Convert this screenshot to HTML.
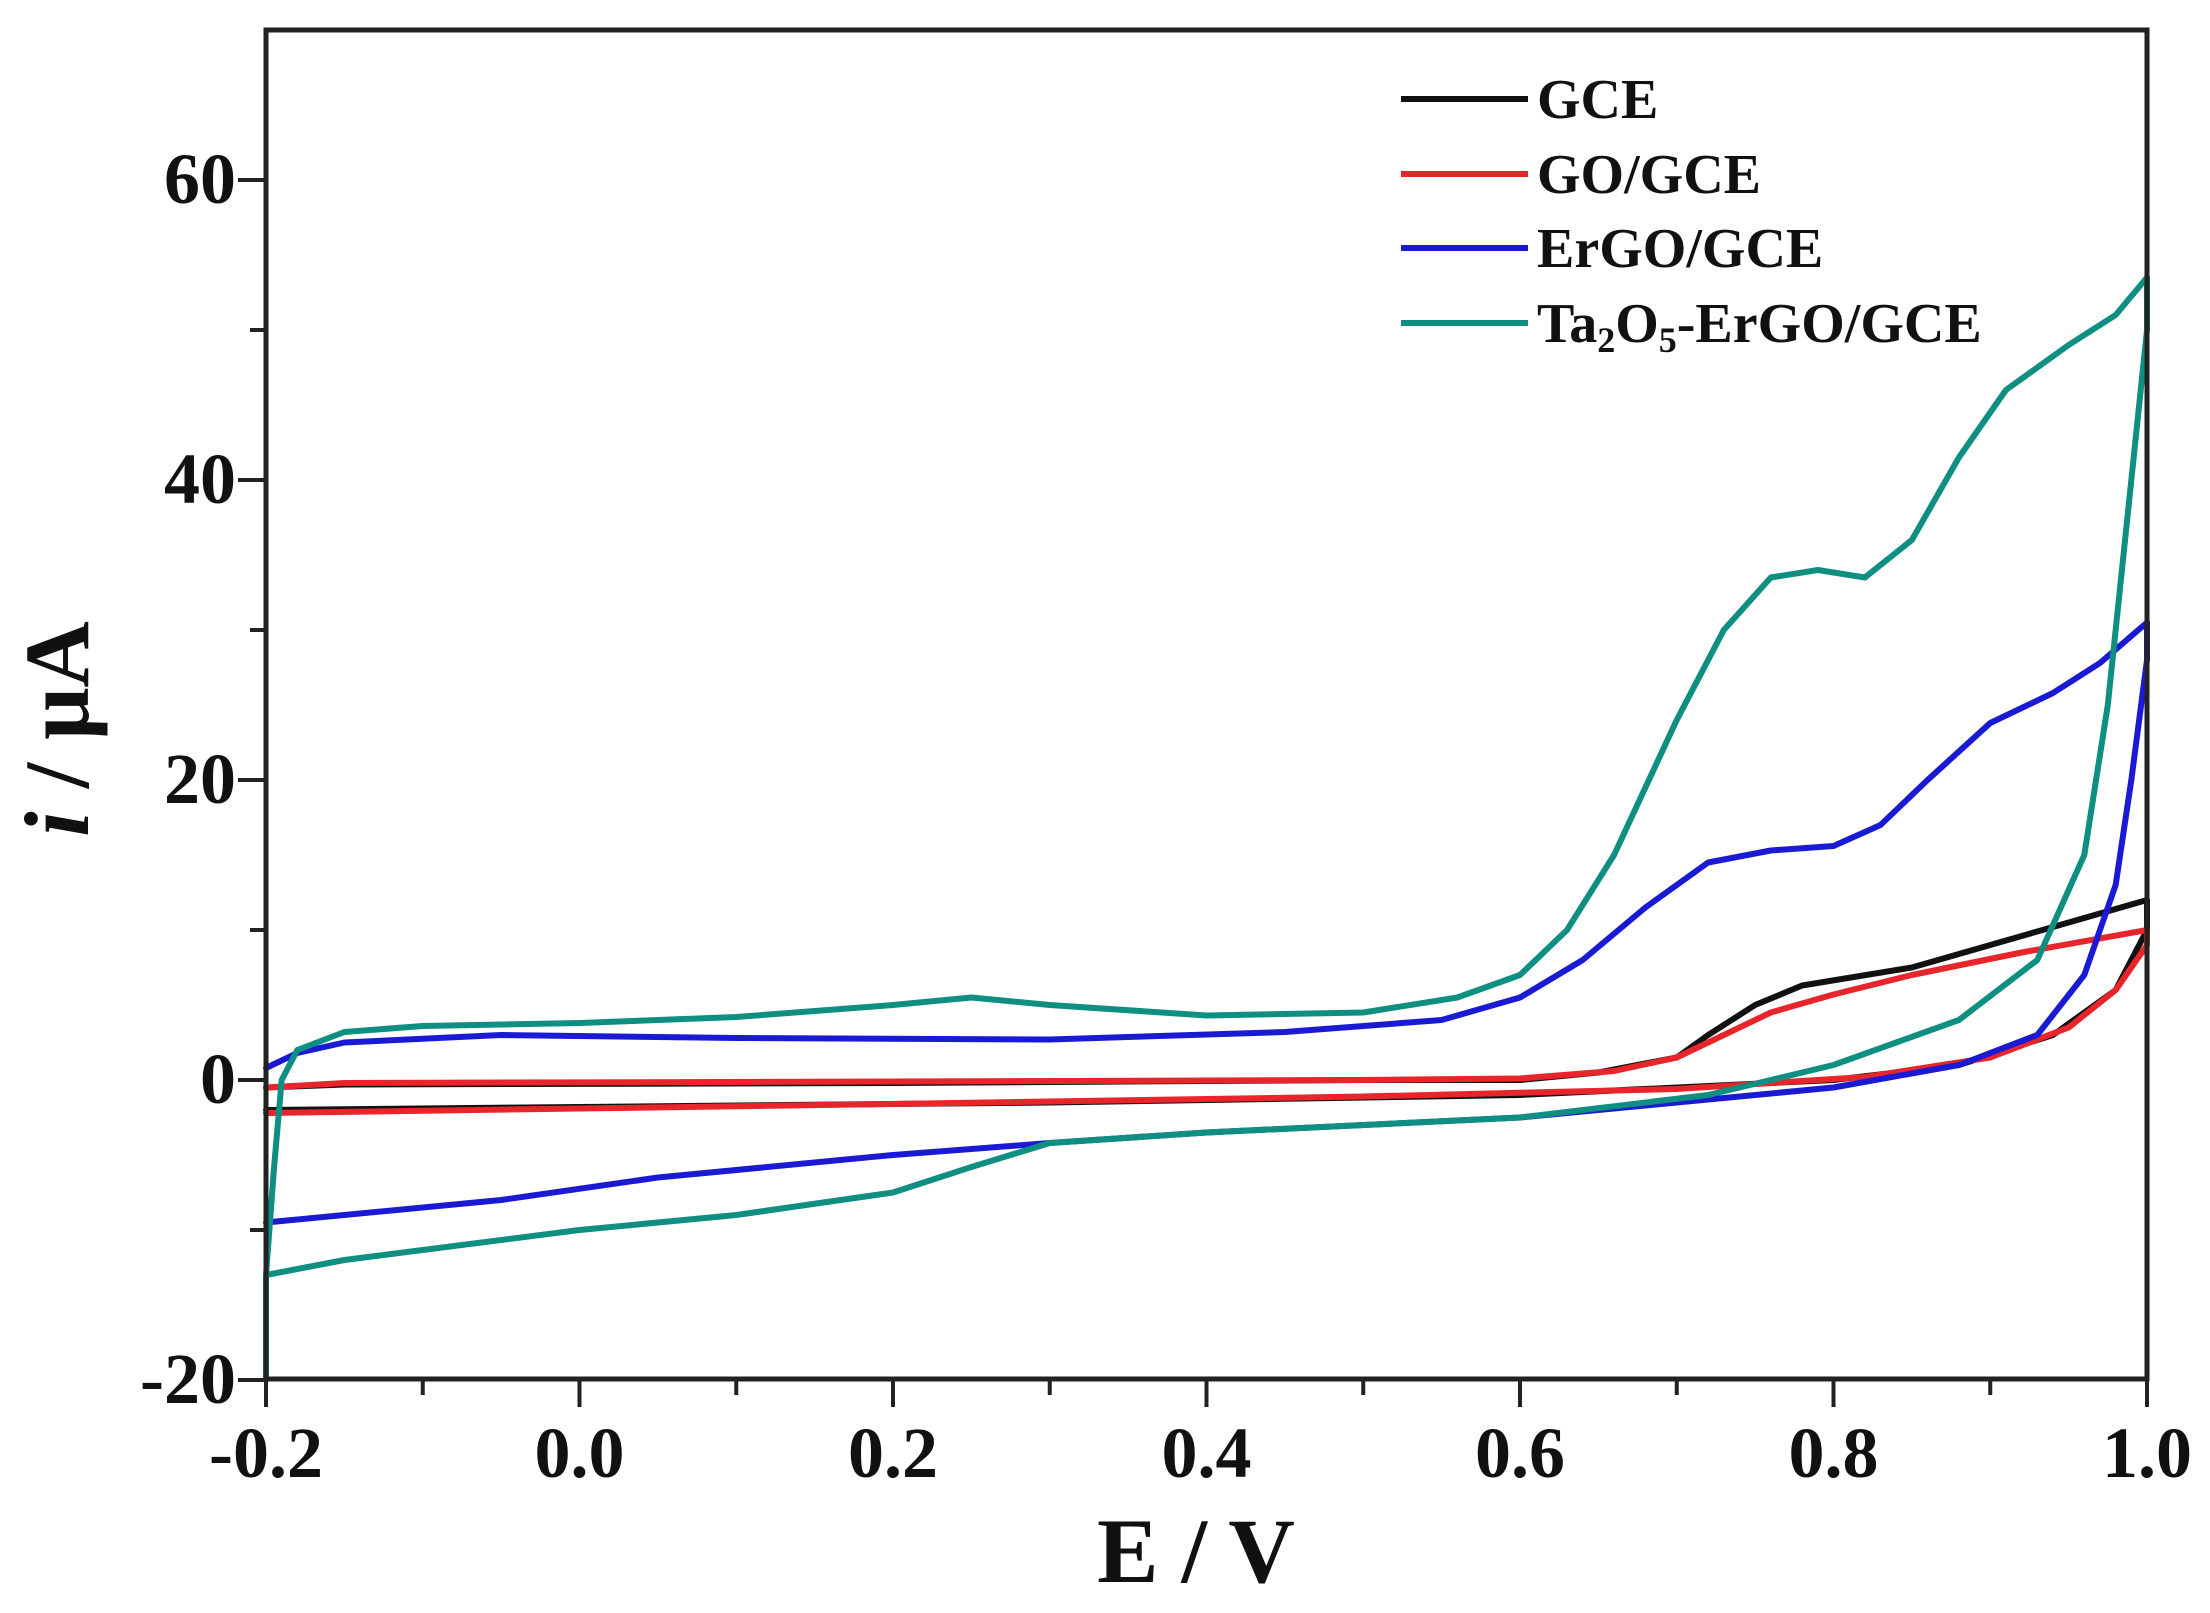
<!DOCTYPE html>
<html><head><meta charset="utf-8"><style>
html,body{margin:0;padding:0;background:#fff;}
svg{display:block;}
text{font-family:"Liberation Serif",serif;font-weight:bold;fill:#111;}
</style></head><body>
<svg width="2210" height="1613" viewBox="0 0 2210 1613" xmlns="http://www.w3.org/2000/svg">
<g transform="translate(579.5,1080) scale(1567.5,-15)" fill="none" stroke-linejoin="round" stroke-linecap="round">
<path vector-effect="non-scaling-stroke" stroke="#111" stroke-width="6" d="M-0.2,-0.5 L-0.15,-0.3 L0.2,-0.2 L0.5,0 L0.6,0 L0.65,0.5 L0.7,1.5 L0.72,3 L0.75,5 L0.78,6.3 L0.85,7.5 L0.95,10.5 L1.0,12 L1.0,10 L0.98,6 L0.94,3 L0.88,1 L0.8,0 L0.6,-1 L0.3,-1.5 L0,-1.8 L-0.2,-2"/>
<path vector-effect="non-scaling-stroke" stroke="#e8252a" stroke-width="6" d="M-0.2,-0.5 L-0.15,-0.2 L0.2,-0.1 L0.5,0 L0.6,0.1 L0.66,0.6 L0.7,1.5 L0.73,3 L0.76,4.5 L0.8,5.7 L0.85,7 L0.92,8.5 L1.0,10 L1.0,9 L0.98,6 L0.95,3.5 L0.9,1.5 L0.82,0.2 L0.7,-0.6 L0.5,-1.1 L0.2,-1.6 L0,-1.9 L-0.2,-2.2"/>
<path vector-effect="non-scaling-stroke" stroke="#1a1ad4" stroke-width="6" d="M-0.2,0.8 L-0.18,1.8 L-0.15,2.5 L-0.05,3 L0.1,2.8 L0.3,2.7 L0.45,3.2 L0.55,4 L0.6,5.5 L0.64,8 L0.68,11.5 L0.72,14.5 L0.76,15.3 L0.8,15.6 L0.83,17 L0.86,20 L0.9,23.8 L0.94,25.8 L0.97,27.8 L1.0,30.5 L1.0,28 L0.99,20 L0.98,13 L0.96,7 L0.93,3 L0.88,1 L0.8,-0.5 L0.7,-1.5 L0.6,-2.5 L0.4,-3.5 L0.3,-4.2 L0.2,-5 L0.05,-6.5 L-0.05,-8 L-0.2,-9.5"/>
<path vector-effect="non-scaling-stroke" stroke="#0e8f82" stroke-width="6" d="M-0.2,-20 L-0.2,-13 L-0.195,-6 L-0.19,0 L-0.18,2 L-0.15,3.2 L-0.1,3.6 L0,3.8 L0.1,4.2 L0.2,5 L0.25,5.5 L0.3,5 L0.4,4.3 L0.5,4.5 L0.56,5.5 L0.6,7 L0.63,10 L0.66,15 L0.7,24 L0.73,30 L0.76,33.5 L0.79,34 L0.82,33.5 L0.85,36 L0.88,41.5 L0.91,46 L0.95,49 L0.98,51 L1.0,53.5 L1.0,50 L0.99,40 L0.975,25 L0.96,15 L0.93,8 L0.88,4 L0.8,1 L0.72,-1 L0.6,-2.5 L0.4,-3.5 L0.3,-4.2 L0.25,-5.8 L0.2,-7.5 L0.1,-9 L0,-10 L-0.15,-12 L-0.2,-13 L-0.2,-20"/>
</g>
<rect x="266" y="30" width="1881" height="1349" fill="none" stroke="#222" stroke-width="5"/>
<g stroke="#222" stroke-width="4">
<path d="M266,1379v28M579.5,1379v28M893,1379v28M1206.5,1379v28M1520,1379v28M1833.5,1379v28M2147,1379v28"/>
<path d="M422.75,1379v16M736.25,1379v16M1049.75,1379v16M1363.25,1379v16M1676.75,1379v16M1990.25,1379v16"/>
<path d="M266,1380h-28M266,1080h-28M266,780h-28M266,480h-28M266,180h-28"/>
<path d="M266,1230h-16M266,930h-16M266,630h-16M266,330h-16"/>
</g>
<g font-size="72" text-anchor="end">
<text x="236" y="1403">-20</text>
<text x="236" y="1103">0</text>
<text x="236" y="803">20</text>
<text x="236" y="503">40</text>
<text x="236" y="203">60</text>
</g>
<g font-size="72" text-anchor="middle">
<text x="266" y="1477">-0.2</text>
<text x="579.5" y="1477">0.0</text>
<text x="893" y="1477">0.2</text>
<text x="1206.5" y="1477">0.4</text>
<text x="1520" y="1477">0.6</text>
<text x="1833.5" y="1477">0.8</text>
<text x="2147" y="1477">1.0</text>
</g>
<text x="1196" y="1582" font-size="92" text-anchor="middle">E / V</text>
<text transform="translate(88,729) rotate(-90)" font-size="92" text-anchor="middle"><tspan font-style="italic">i</tspan> / μA</text>
<g stroke-width="6">
<line x1="1401" y1="99" x2="1528" y2="99" stroke="#111"/>
<line x1="1401" y1="174" x2="1528" y2="174" stroke="#e8252a"/>
<line x1="1401" y1="248" x2="1528" y2="248" stroke="#1a1ad4"/>
<line x1="1401" y1="323" x2="1528" y2="323" stroke="#0e8f82"/>
</g>
<g font-size="56">
<text x="1537" y="118">GCE</text>
<text x="1537" y="193">GO/GCE</text>
<text x="1537" y="267">ErGO/GCE</text>
<text x="1537" y="342">Ta<tspan font-size="36" dy="10">2</tspan><tspan dy="-10">O</tspan><tspan font-size="36" dy="10">5</tspan><tspan dy="-10">-ErGO/GCE</tspan></text>
</g>
</svg>
</body></html>
